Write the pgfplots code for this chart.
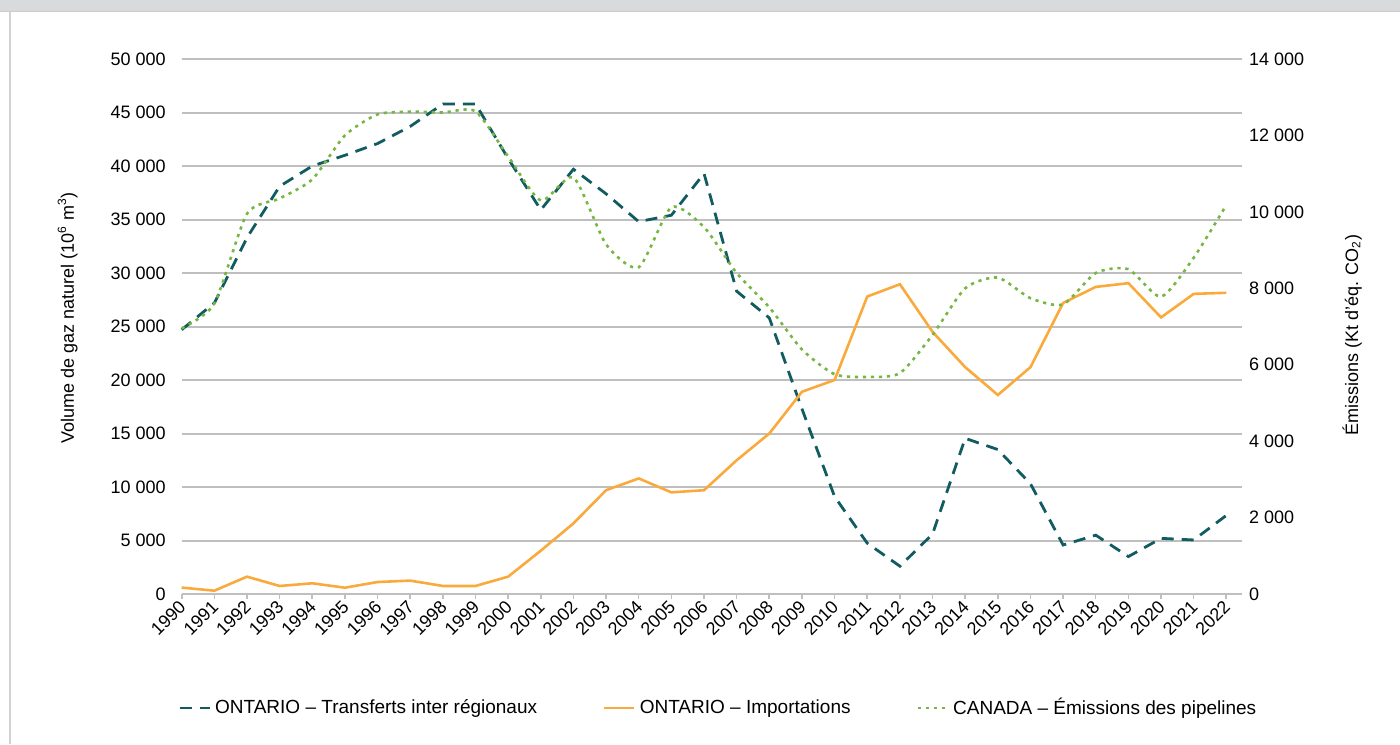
\documentclass[border=0pt]{standalone}
\usepackage{fontspec}
\setmainfont{Liberation Sans}
\usepackage{pgfplots}
\pgfplotsset{compat=1.18}
\usepackage{pgfplotstable}

\definecolor{teal}{RGB}{16,92,96}
\definecolor{orng}{RGB}{250,170,60}
\definecolor{grn}{RGB}{118,183,67}
\definecolor{gridg}{RGB}{191,191,191}
\definecolor{headg}{RGB}{217,218,220}
\newcommand\f{\fontsize{9}{10.8}\selectfont}

% year, transfers (10^6 m3), imports (10^6 m3), pipeline emissions (kt)
\pgfplotstableread{
year transf import emis
1990 24700 600 6950
1991 27200 310 7600
1992 33300 1620 9950
1993 38100 750 10350
1994 40000 1000 10850
1995 41000 590 12000
1996 42100 1120 12550
1997 43700 1250 12620
1998 45800 750 12600
1999 45800 750 12630
2000 40700 1620 11450
2001 35900 4050 10300
2002 39700 6600 10900
2003 37400 9700 9150
2004 34800 10800 8550
2005 35400 9500 10120
2006 39300 9700 9600
2007 28300 12500 8400
2008 25800 15000 7500
2009 17300 18900 6400
2010 9100 20000 5750
2011 4750 27800 5680
2012 2600 28950 5780
2013 5600 24500 6780
2014 14550 21200 8000
2015 13500 18600 8280
2016 10300 21200 7740
2017 4580 27200 7580
2018 5500 28700 8400
2019 3500 29050 8500
2020 5200 25850 7780
2021 5050 28050 8800
2022 7350 28150 10180
}\data

\begin{document}
\begin{tikzpicture}
\useasboundingbox (0pt,0pt) rectangle (700pt,372pt);
% header strip and frame
\fill[headg] (0pt,366pt) rectangle (700pt,372pt);
\draw[gray!40,line width=0.5pt] (0pt,366pt) -- (700pt,366pt);
\draw[gray!35,line width=0.6pt] (5pt,0pt) -- (5pt,366pt);

\pgfplotsset{
  mybase/.style={
    at={(90.85pt,75pt)}, anchor=south west,
    scale only axis, width=530.15pt, height=267.5pt,
    xmin=1990, xmax=2022.48,
    axis line style={draw=none},
    ytick style={draw=none},
    scaled ticks=false,
    /pgf/number format/assume math mode=true,
    /pgf/number format/1000 sep={\ },
    tick label style={font=\f},
    label style={font=\f},
    clip=false,
  },
}

\begin{axis}[mybase,
  ymin=0, ymax=50000,
  ytick={0,5000,...,50000},
  ymajorgrids, grid style={gridg,line width=1pt},
  yticklabel style={xshift=-2pt},
  xtick={1990,...,2022},
  xtick pos=bottom,
  xtick style={gridg,line width=0.8pt},
  tick align=outside, major tick length=2.5pt,
  x tick label style={rotate=45,anchor=east,/pgf/number format/1000 sep={},yshift=-2pt,xshift=2pt},
  ylabel={Volume de gaz naturel (10\textsuperscript{6} m\textsuperscript{3})},
  ylabel style={at={(axis description cs:-0.1075,0.516)},anchor=center},
  legend style={at={(axis description cs:0.507,-0.213)},anchor=center,
    draw=none,fill=none,font=\fontsize{9.5}{11}\selectfont,legend columns=3,
    /tikz/every even column/.append style={column sep=31pt}},
  legend cell align=left,
  legend image code/.code={\draw[#1] (0pt,0pt) -- (15pt,0pt);},
]
\addplot[teal,line width=1.4pt,dash pattern=on 6pt off 4pt] table[x=year,y=transf]{\data};
\addlegendentry{ONTARIO – Transferts inter régionaux}
\addplot[orng,line width=1.3pt] table[x=year,y=import]{\data};
\addlegendentry{ONTARIO – Importations}
\addlegendimage{grn,line width=1.3pt,dash pattern=on 1.6pt off 2.4pt}
\addlegendentry{CANADA – Émissions des pipelines}
\end{axis}

\begin{axis}[mybase,
  ymin=0, ymax=14000,
  ytick={0,2000,...,14000},
  xtick=\empty,
  yticklabel pos=right,
  ylabel={Émissions (Kt d’éq. CO\textsubscript{2})},
  ylabel style={at={(axis description cs:1.104,0.484)},anchor=center,rotate=0},
]
\addplot[grn,line width=1.3pt,dash pattern=on 1.6pt off 2.4pt,smooth,tension=0.4] table[x=year,y=emis]{\data};
\end{axis}
\end{tikzpicture}
\end{document}
